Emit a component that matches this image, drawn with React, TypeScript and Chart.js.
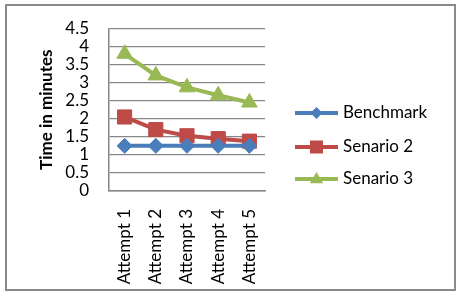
import { useEffect, useRef } from "react";
import { Chart, registerables } from "chart.js";

Chart.register(...registerables);

const categories = ["Attempt 1", "Attempt 2", "Attempt 3", "Attempt 4", "Attempt 5"];
const benchmark = [1.25, 1.25, 1.25, 1.25, 1.25];
const senario2 = [2.05, 1.7, 1.53, 1.45, 1.38];
const senario3 = [3.8, 3.2, 2.87, 2.65, 2.45];
const seriesNames = ["Benchmark", "Senario 2", "Senario 3"];
const seriesColors = ["#4A7EBB", "#BE4B48", "#98B954"];
const seriesMarkers = ["rectRot", "rect", "triangle"];
const seriesRadius = [7.5, 10, 9];
const legendMarkerSize = [6, 6.5, 7];
const yMin = 0;
const yMax = 4.5;
const yStep = 0.5;
const yTitle = "Time in minutes";

const FONT = 'Lato, "Liberation Sans", sans-serif';
const GRID = "#878787";

function drawMarker(ctx: CanvasRenderingContext2D, style: string, r: number, x: number, y: number) {
  ctx.beginPath();
  if (style === "rectRot") {
    ctx.moveTo(x, y - r);
    ctx.lineTo(x + r, y);
    ctx.lineTo(x, y + r);
    ctx.lineTo(x - r, y);
  } else if (style === "rect") {
    ctx.rect(x - r, y - r, 2 * r, 2 * r);
  } else {
    ctx.moveTo(x, y - r);
    ctx.lineTo(x + r * 0.95, y + r * 0.6);
    ctx.lineTo(x - r * 0.95, y + r * 0.6);
  }
  ctx.closePath();
  ctx.fill();
}

const frameAndLegend = {
  id: "frameAndLegend",
  beforeDraw(chart: any) {
    const { ctx, width, height } = chart;
    ctx.save();
    ctx.fillStyle = "#ffffff";
    ctx.fillRect(0, 0, width, height);
    ctx.strokeStyle = "#8a8a8a";
    ctx.lineWidth = 2;
    ctx.strokeRect(6, 5, width - 11, height - 9);
    ctx.restore();
  },
  afterDraw(chart: any) {
    const { ctx, chartArea } = chart;
    const x0 = chartArea.right + 30;
    const x1 = x0 + 43;
    const xm = (x0 + x1) / 2;
    const rowY = [113, 147, 179];
    ctx.save();
    chart.data.datasets.forEach((ds: any, i: number) => {
      const y = rowY[i];
      ctx.strokeStyle = ds.borderColor;
      ctx.lineWidth = 4;
      ctx.beginPath();
      ctx.moveTo(x0, y);
      ctx.lineTo(x1, y);
      ctx.stroke();
      ctx.fillStyle = ds.pointBackgroundColor;
      drawMarker(ctx, ds.pointStyle, legendMarkerSize[i], xm, y);
      ctx.fillStyle = "#000000";
      ctx.font = `17px ${FONT}`;
      ctx.textBaseline = "middle";
      ctx.textAlign = "left";
      ctx.fillText(ds.label, x1 + 5, y);
    });
    ctx.restore();
  },
};

export default function App() {
  const ref = useRef<HTMLCanvasElement | null>(null);
  useEffect(() => {
    if (!ref.current) return;
    const values = [benchmark, senario2, senario3];
    const chart = new Chart(ref.current, {
      type: "line",
      data: {
        labels: categories,
        datasets: values.map((v, i) => ({
          label: seriesNames[i],
          data: v,
          borderColor: seriesColors[i],
          backgroundColor: seriesColors[i],
          pointBackgroundColor: seriesColors[i],
          pointBorderColor: seriesColors[i],
          pointStyle: seriesMarkers[i] as any,
          pointRadius: seriesRadius[i],
          pointBorderWidth: 1,
          borderWidth: 4,
          tension: 0,
        })),
      },
      options: {
        animation: false,
        responsive: false,
        layout: { padding: { top: 24, right: 195, left: 0, bottom: 0 } },
        plugins: { legend: { display: false }, tooltip: { enabled: false } },
        scales: {
          x: {
            offset: true,
            grid: { display: false },
            border: { display: true, color: GRID, width: 1.5 },
            ticks: {
              minRotation: 90,
              maxRotation: 90,
              padding: 10,
              color: "#000",
              font: { family: FONT, size: 17 },
            },
            afterFit(scale: any) {
              scale.height = 103;
            },
          },
          y: {
            min: yMin,
            max: yMax,
            ticks: {
              stepSize: yStep,
              autoSkip: false,
              padding: 20,
              color: "#000",
              font: { family: FONT, size: 17, lineHeight: 1 },
              callback: (v: any) => String(Number(v)),
            },
            grid: { color: GRID, lineWidth: 1.3, drawTicks: false },
            border: { display: true, color: GRID, width: 1.5 },
            title: {
              display: true,
              text: yTitle,
              color: "#000",
              font: { family: FONT, size: 17, weight: "bold" },
              padding: { top: 36, bottom: 0 },
            },
            afterFit(scale: any) {
              scale.width = 109;
            },
          },
        },
      },
      plugins: [frameAndLegend],
    });
    return () => chart.destroy();
  }, []);
  return (
    <div style={{ position: "absolute", left: 0, top: 0, width: 460, height: 294 }}>
      <canvas ref={ref} width={460} height={294} style={{ width: 460, height: 294 }} />
    </div>
  );
}
